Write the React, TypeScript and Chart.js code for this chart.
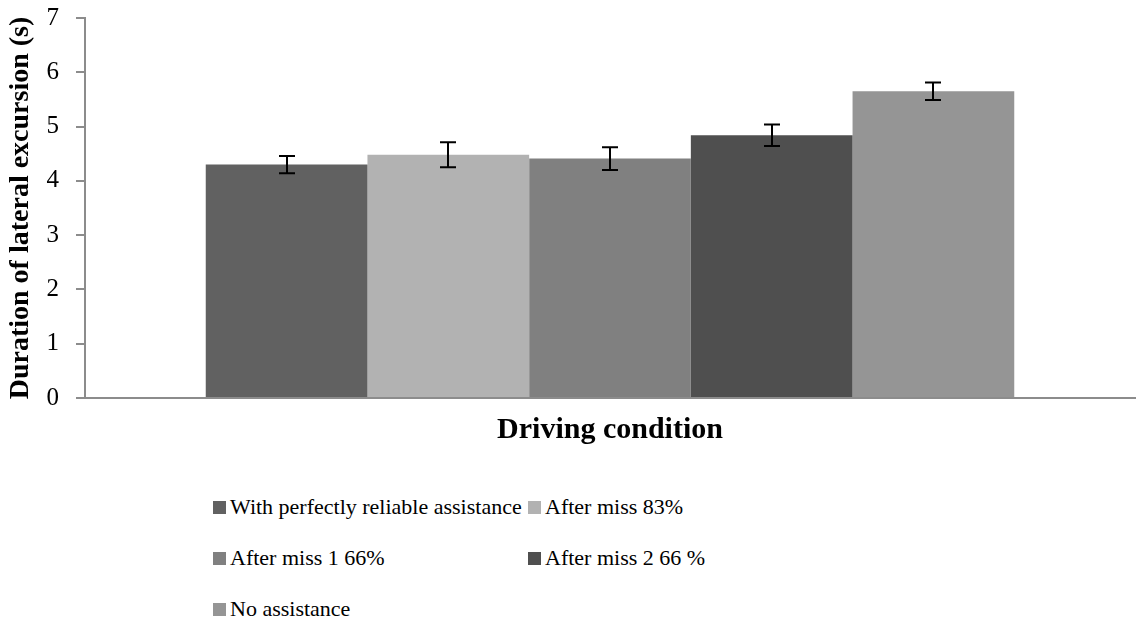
import React, { useEffect, useRef } from "react";
import { Chart, registerables } from "chart.js";

Chart.register(...registerables);

const categories = [""];
const seriesNames = [
  "With perfectly reliable assistance",
  "After miss 83%",
  "After miss 1 66%",
  "After miss 2 66 %",
  "No assistance",
];
const seriesValues = [4.3, 4.48, 4.41, 4.84, 5.65];
const seriesErrors = [0.16, 0.23, 0.21, 0.2, 0.16];
const seriesColors = ["#616161", "#b2b2b2", "#808080", "#4f4f4f", "#959595"];
const yTicks = [0, 1, 2, 3, 4, 5, 6, 7];

const FONT = "'Liberation Serif', 'Times New Roman', serif";

const errorBarPlugin = {
  id: "errorBars",
  afterDatasetsDraw(chart: any) {
    const ctx = chart.ctx;
    const y = chart.scales.y;
    ctx.save();
    ctx.strokeStyle = "#000";
    ctx.lineWidth = 2;
    chart.data.datasets.forEach((ds: any, i: number) => {
      const meta = chart.getDatasetMeta(i);
      meta.data.forEach((bar: any, j: number) => {
        const v = ds.data[j];
        const e = seriesErrors[i];
        const top = y.getPixelForValue(v + e);
        const bot = y.getPixelForValue(v - e);
        const x = Math.round(bar.x);
        const w = 8;
        ctx.beginPath();
        ctx.moveTo(x, top);
        ctx.lineTo(x, bot);
        ctx.moveTo(x - w, top);
        ctx.lineTo(x + w, top);
        ctx.moveTo(x - w, bot);
        ctx.lineTo(x + w, bot);
        ctx.stroke();
      });
    });
    ctx.restore();
  },
};

export default function App() {
  const ref = useRef<HTMLCanvasElement>(null);
  useEffect(() => {
    document.body.style.margin = "0";
    const chart = new Chart(ref.current as HTMLCanvasElement, {
      type: "bar",
      data: {
        labels: categories,
        datasets: seriesNames.map((name, i) => ({
          label: name,
          data: [seriesValues[i]],
          backgroundColor: seriesColors[i],
          borderWidth: 0,
          categoryPercentage: 0.77,
          barPercentage: 1.0,
        })),
      },
      options: {
        responsive: false,
        animation: false,
        layout: { padding: { top: 18, right: 2, left: 4, bottom: 18 } },
        plugins: {
          legend: { display: false },
          tooltip: { enabled: false },
        },
        scales: {
          x: {
            grid: { display: false },
            border: { color: "#8c8c8c", width: 2 },
            ticks: { display: false },
            title: {
              display: true,
              text: "Driving condition",
              color: "#000",
              font: { family: FONT, size: 30, weight: "bold" },
              padding: { top: 6, bottom: 0 },
            },
          },
          y: {
            min: 0,
            max: 7,
            afterBuildTicks: (scale: any) => {
              scale.ticks = yTicks.map((v) => ({ value: v }));
            },
            afterFit: (scale: any) => {
              scale.width = 81;
              scale.paddingTop = 0;
              scale.paddingBottom = 0;
            },
            grid: {
              drawOnChartArea: false,
              drawTicks: true,
              tickLength: 9,
              color: "#8c8c8c",
              lineWidth: 2,
            },
            border: { color: "#8c8c8c", width: 2 },
            ticks: {
              color: "#000",
              font: { family: FONT, size: 25 },
              padding: 17,
            },
            title: {
              display: true,
              text: "Duration of lateral excursion (s)",
              color: "#000",
              font: { family: FONT, size: 28, weight: "bold" },
              padding: { top: 0, bottom: 4 },
            },
          },
        },
      },
      plugins: [errorBarPlugin],
    } as any);
    return () => chart.destroy();
  }, []);

  return (
    <div style={{ position: "relative", width: 1137, height: 626, background: "#fff" }}>
      <canvas ref={ref} width={1137} height={466} style={{ display: "block" }} />
      {seriesNames.map((name, i) => {
        const col = i % 2;
        const row = Math.floor(i / 2);
        return (
          <div
            key={name}
            style={{
              position: "absolute",
              left: col === 0 ? 213 : 528,
              top: 494 + row * 51,
              height: 26,
              display: "flex",
              alignItems: "center",
              fontFamily: FONT,
              fontSize: 22,
              color: "#000",
              whiteSpace: "nowrap",
            }}
          >
            <span
              style={{
                display: "inline-block",
                width: 13,
                height: 13,
                background: seriesColors[i],
                marginRight: 4,
              }}
            />
            {name}
          </div>
        );
      })}
    </div>
  );
}
